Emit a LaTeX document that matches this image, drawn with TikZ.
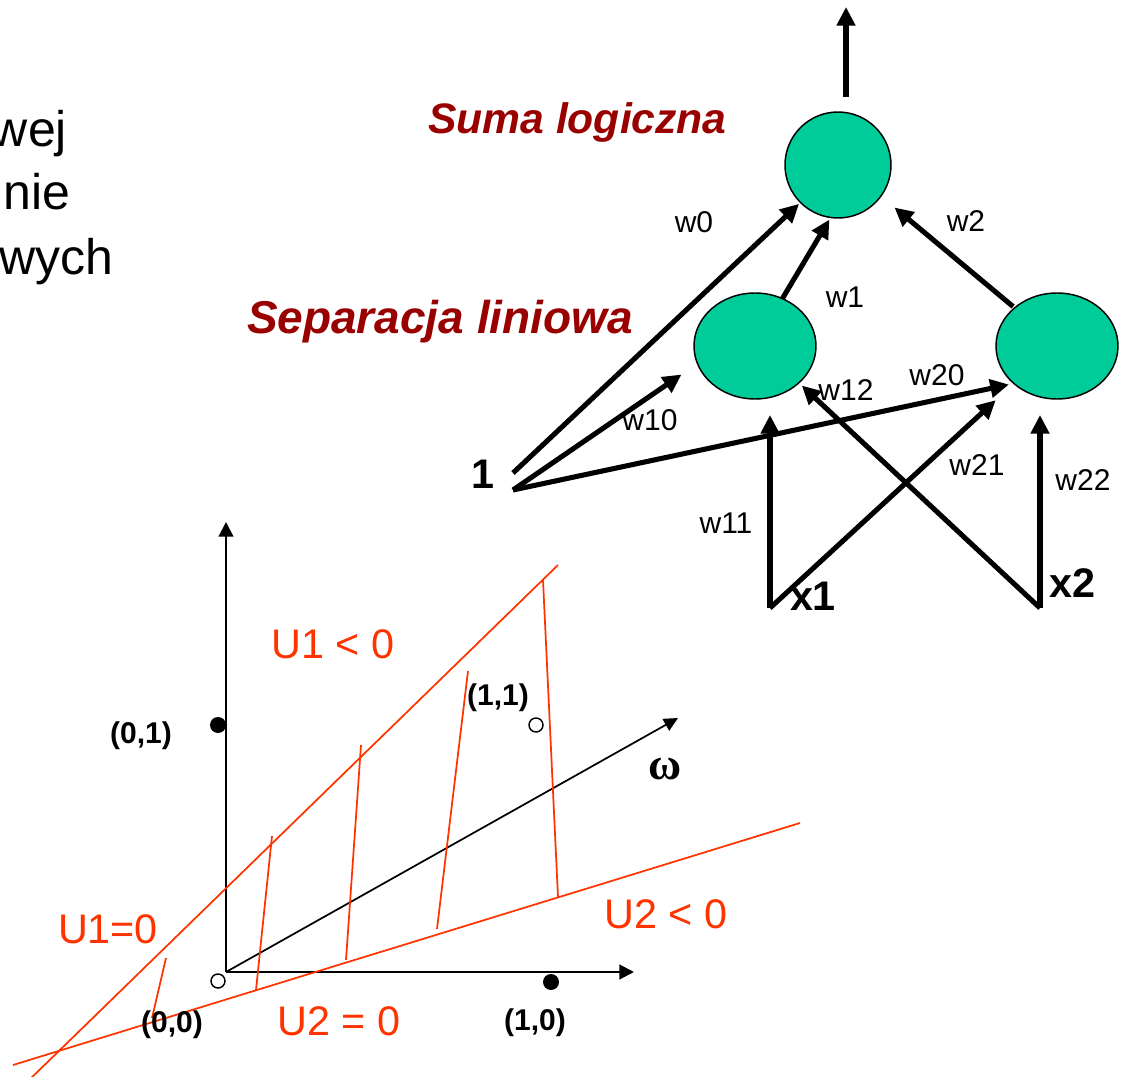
\documentclass[tikz,border=0pt]{standalone}
\usepackage{fontspec}
\setmainfont{Liberation Sans}
\newfontfamily\greekserif{Liberation Serif}
\usetikzlibrary{arrows.meta,shapes.geometric,calc}

\definecolor{neuron}{RGB}{0,204,153}
\definecolor{heading}{RGB}{153,0,0}
\definecolor{bound}{RGB}{255,51,0}

\begin{document}
\begin{tikzpicture}[x=0.75pt,y=-0.75pt,
  every node/.style={inner sep=0pt,outer sep=0pt},
  neuronc/.style={circle,draw=black,line width=1.1pt,fill=neuron,minimum size=79.5pt},
  neurone/.style={ellipse,draw=black,line width=1.1pt,fill=neuron,minimum width=91.5pt,minimum height=79.5pt},
  wire/.style={line width=3.8pt,-{Triangle[length=14pt,width=13.5pt]}},
  wlabel/.style={font=\fontsize{22.5}{27}\selectfont,anchor=base},
  inlabel/.style={font=\fontsize{31}{37}\selectfont\bfseries,anchor=base},
  headline/.style={font=\fontsize{#1}{#1}\selectfont\bfseries\itshape,text=heading,anchor=base west},
  bodytext/.style={font=\fontsize{37.5}{45}\selectfont,anchor=base east},
  axis/.style={line width=1.6pt,-{Triangle[length=11pt,width=11pt]}},
  omegaaxis/.style={line width=1.3pt,-{Triangle[length=10.5pt,width=10pt]}},
  redline/.style={draw=bound,line width=1.3pt},
  ulabel/.style={font=\fontsize{31}{37}\selectfont,text=bound,anchor=base},
  ptlabel/.style={font=\fontsize{22.5}{27}\selectfont\bfseries,anchor=base},
  fulldot/.style={circle,fill=black,minimum size=12pt},
  opendot/.style={circle,draw=black,line width=1.1pt,fill=white,minimum size=10.5pt}
]
\useasboundingbox (0,0) rectangle (1122,1077);

% --- text running in from the left edge ---
\node[bodytext] (t1) at (67,147) {wej};
\node[bodytext] (t2) at (70,210) {nie};
\node[bodytext] (t3) at (113,275) {wych};

% --- network ---
\node[neuronc] (out) at (838,165) {};
\node[neurone] (h1) at (755,346) {};
\node[neurone] (h2) at (1057,346) {};

\node[headline=32] (suma) at (428,134) {Suma logiczna};
\node[headline=34.5] (sep) at (247,334) {Separacja liniowa};

\coordinate (b0) at (513,473);
\coordinate (b1) at (513,490);
\coordinate (x1p) at (770,608);
\coordinate (x2p) at (1040,608);
\coordinate (outtip) at (846,7);

\node[inlabel] (one) at (483,488) {1};
\node[inlabel] (x1) at (813,610) {x1};
\node[inlabel] (x2) at (1072,597) {x2};

% output
\draw[wire,shorten <=11.25pt] (outtip |- out.north) -- (outtip);
% bias connections
\draw[wire,shorten >=1.5pt] (b0) -- (out.225);
\draw[wire,shorten >=14.5pt] (b1) -- (h1.197);
\draw[wire,shorten >=3.8pt] (b1) -- (h2.221);
% hidden to output
\draw[wire,shorten >=1.8pt] (h1.60) -- (out.-98);
\draw[wire,shorten <=1.5pt,shorten >=13.3pt] (h2.138) -- (out.-36);
% inputs to hidden
\draw[wire,shorten >=12pt] (x1p) -- (x1p |- h1.south);
\draw[wire,shorten >=18.5pt] (x1p) -- (h2.221);
\draw[wire,shorten >=3pt] (x2p) -- (h1.-40);
\draw[wire,shorten >=12pt] (x2p) -- (x2p |- h2.south);

% weights
\node[wlabel] (lw0) at (694,233) {w0};
\node[wlabel] (lw2) at (966,232) {w2};
\node[wlabel] (lw1) at (845,308) {w1};
\node[wlabel] (lw10) at (650,430) {w10};
\node[wlabel] (lw12) at (846,400) {w12};
\node[wlabel] (lw20) at (937,385) {w20};
\node[wlabel] (lw21) at (977,475) {w21};
\node[wlabel] (lw22) at (1083,490) {w22};
\node[wlabel] (lw11) at (726,533) {w11};

% --- decision plane ---
\coordinate (O) at (226,972);
\coordinate (ytip) at (226,522);
\coordinate (xtip) at (634,972);
\coordinate (wtip) at (678,718);
\draw[axis] (O) -- (ytip);
\draw[axis] (O) -- (xtip);
\draw[omegaaxis] (O) -- (wtip);

% boundary lines U1=0 and U2=0
\coordinate (u1a) at (25,1084);
\coordinate (u1b) at (558,565);
\coordinate (u2a) at (13,1065);
\coordinate (u2b) at (800,823);
\draw[redline] (u1a) -- (u1b);
\draw[redline] (u2a) -- (u2b);

% hatching between the boundaries
\coordinate (h1a) at (152,1018); \coordinate (h1b) at (166,958);
\coordinate (h2a) at (256,990);  \coordinate (h2b) at (272,836);
\coordinate (h3a) at (346,960);  \coordinate (h3b) at (361,745);
\coordinate (h4a) at (437,929);  \coordinate (h4b) at (468,671);
\coordinate (h5a) at (558,897);  \coordinate (h5b) at (543,580);
\draw[redline] (h1a) -- (h1b);
\draw[redline] (h2a) -- (h2b);
\draw[redline] (h3a) -- (h3b);
\draw[redline] (h4a) -- (h4b);
\draw[redline] (h5a) -- (h5b);

% points
\node[opendot] (p00) at (218,981) {};
\node[fulldot] (p01) at (218,725) {};
\node[fulldot] (p10) at (551,982) {};
\node[opendot] (p11) at (536,725) {};

\node[ptlabel] (l01) at (141,743) {(0,1)};
\node[ptlabel] (l11) at (498,705) {(1,1)};
\node[ptlabel] (l00) at (172,1032) {(0,0)};
\node[ptlabel] (l10) at (535,1030) {(1,0)};

\node[font=\fontsize{34}{36}\selectfont\greekserif\bfseries,anchor=base] (om) at (665,779) {ω};

\node[ulabel] (u1neg) at (333,658) {U1 < 0};
\node[ulabel] (u1zero) at (108,943) {U1=0};
\node[ulabel] (u2zero) at (339,1035) {U2 = 0};
\node[ulabel] (u2neg) at (666,928) {U2 < 0};
\end{tikzpicture}
\end{document}
